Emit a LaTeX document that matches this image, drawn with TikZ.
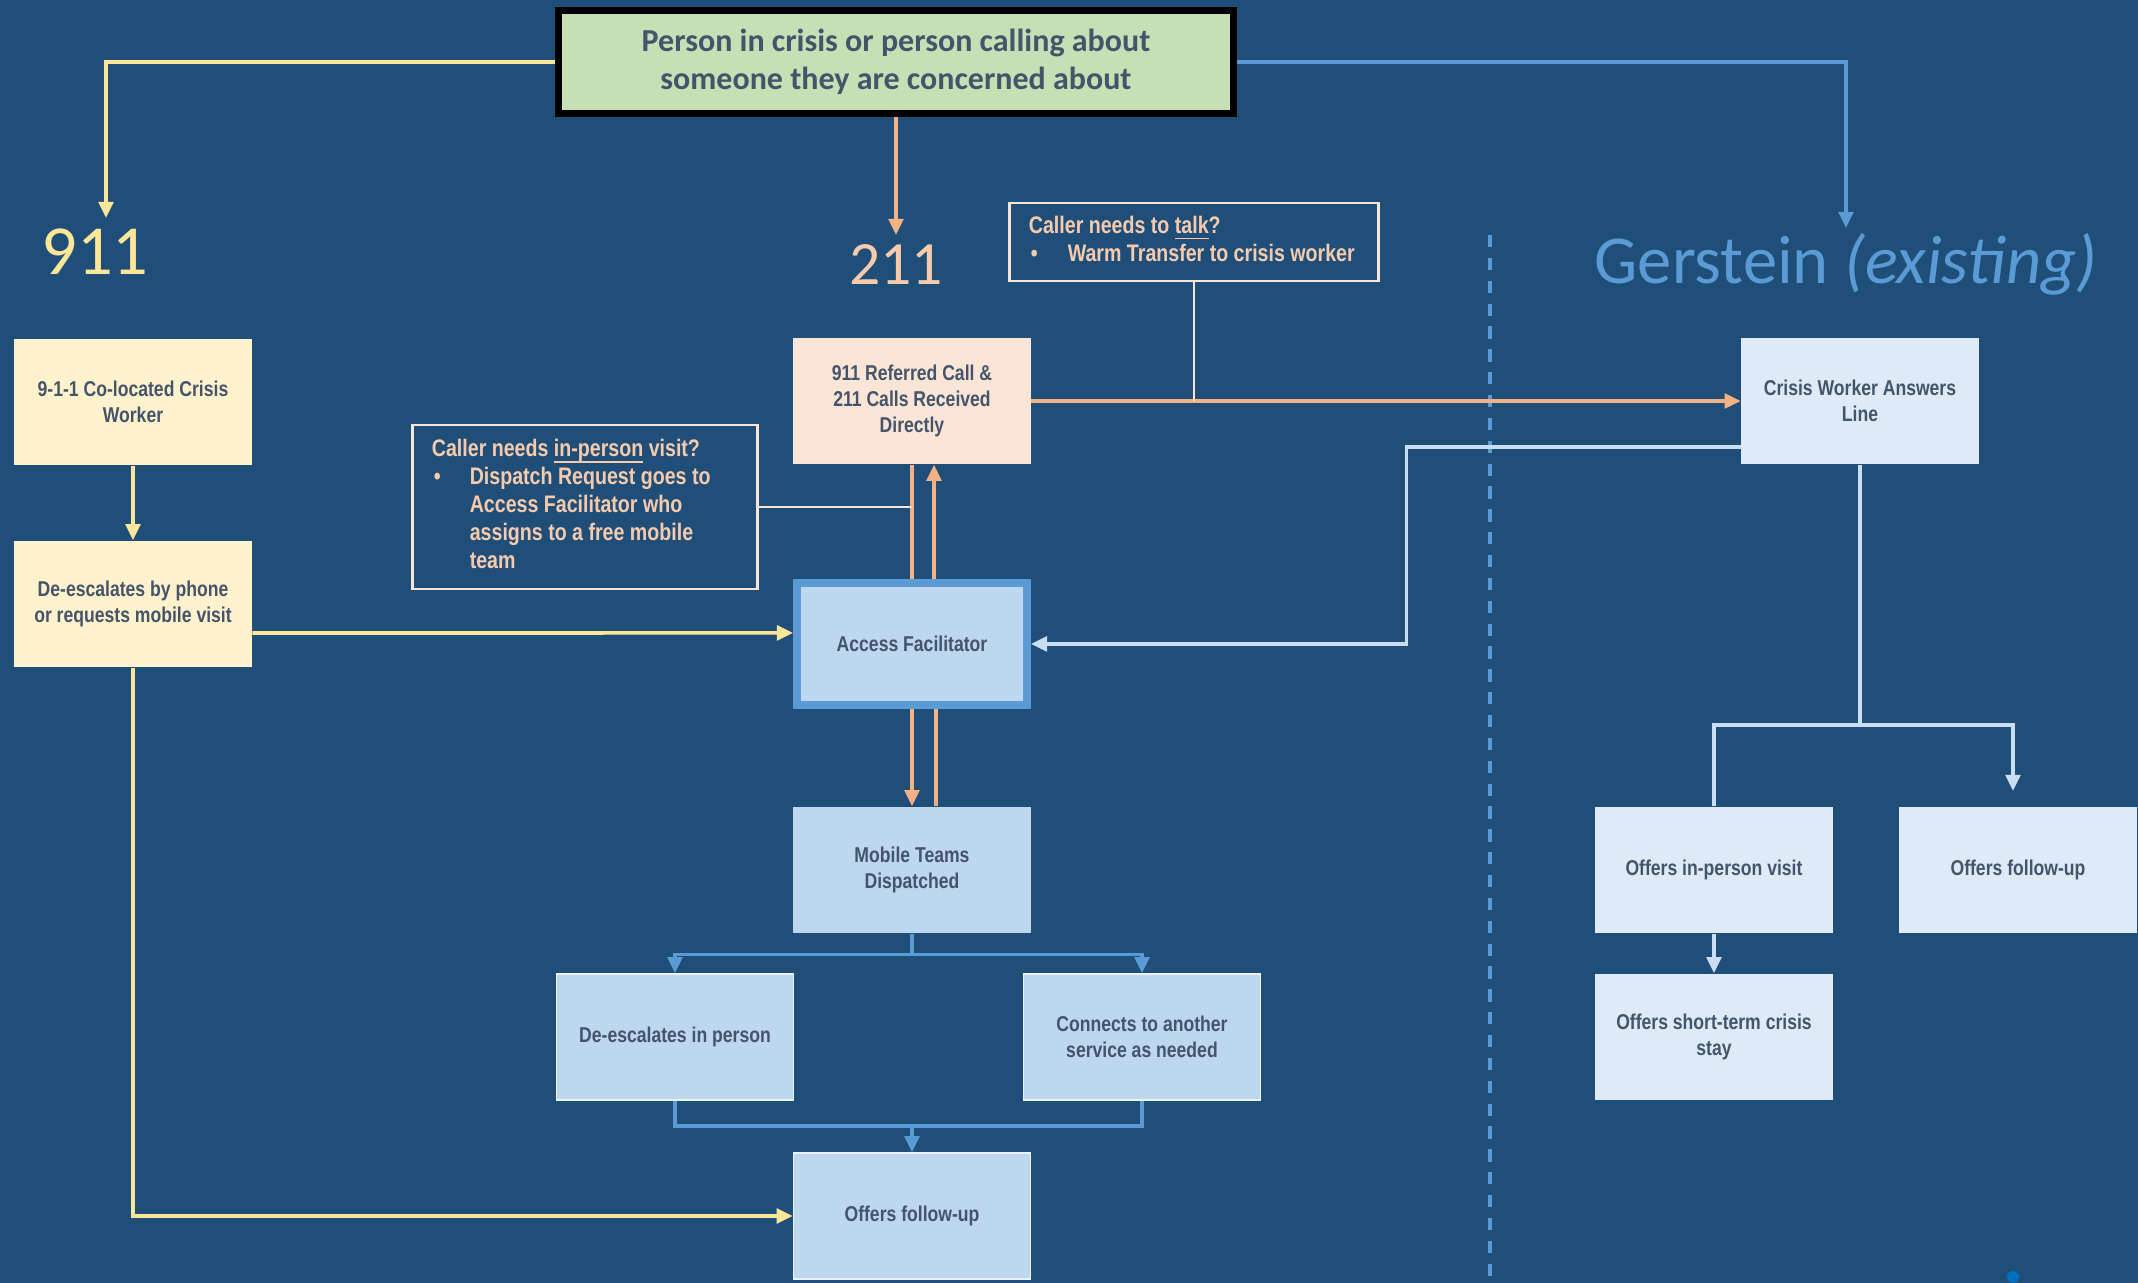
\documentclass[tikz,border=0pt]{standalone}
\usepackage{fontspec}
\setmainfont{Carlito}
\newfontfamily\narrowfont[FakeStretch=0.82]{Liberation Sans}
\usetikzlibrary{positioning,calc,arrows.meta}

\definecolor{bgblue}{HTML}{1F4E79}
\definecolor{topgreen}{HTML}{C5E0B4}
\definecolor{boxtext}{HTML}{44546A}
\definecolor{ylwline}{HTML}{FFE699}
\definecolor{ylwbox}{HTML}{FFF2CC}
\definecolor{pchline}{HTML}{F4B183}
\definecolor{pchbox}{HTML}{FBE5D6}
\definecolor{pchtext}{HTML}{F8CBAD}
\definecolor{bluline}{HTML}{5B9BD5}
\definecolor{blubox}{HTML}{BDD7EE}
\definecolor{palebox}{HTML}{DEEBF7}
\definecolor{paleline}{HTML}{C9DEF2}
\definecolor{dotblue}{HTML}{0070C0}

\newcommand{\ulword}[1]{\underline{\smash{#1}}}

\begin{document}
\begin{tikzpicture}[x=0.01cm,y=-0.01cm,
    tip/.style={-{Triangle[width=4.2pt,length=4.6pt]}},
    box/.style={rectangle, minimum width=2.37cm, minimum height=1.26cm, inner sep=1pt,
        align=center, text=boxtext, font=\narrowfont\bfseries\fontsize{6.1}{7.4}\selectfont},
    callout/.style={rectangle, draw=pchbox, line width=0.8pt, text=pchtext, align=flush left,
        inner sep=0pt, font=\narrowfont\bfseries\fontsize{6.8}{7.9}\selectfont},
    ylw/.style={draw=ylwline, line width=1pt},
    org/.style={draw=pchline, line width=1pt},
    blu/.style={draw=bluline, line width=1pt},
    pale/.style={draw=paleline, line width=1pt}]

    % background
    \useasboundingbox (0,0) rectangle (2138,1283);
    \fill[bgblue] (0,0) rectangle (2138,1283);

    % Caller
    \node[draw=black, line width=2pt, fill=topgreen, minimum width=6.74cm, minimum height=1.03cm,
        align=center, text=boxtext, font=\bfseries\fontsize{9.1}{10.8}\selectfont]
        (top) at (896,62) {Person in crisis or person calling about\\someone they are concerned about};

    % Headings
    \node[text=ylwline, font=\fontsize{20}{24}\selectfont, inner sep=0pt] (lbl911) at (95,252) {911};
    \node[text=pchtext, font=\fontsize{17.5}{21}\selectfont, inner sep=0pt] (lbl211) at (896,265) {211};
    \node[text=bluline, font=\fontsize{19.5}{23}\selectfont, inner sep=0pt, anchor=base]
        (lblger) at (1846,284) {Gerstein \textit{(existing)}};
    \coordinate (in911) at (106,218);
    \coordinate (in211) at (896,235);
    \coordinate (inger) at (1846,228);
    \draw[ylw,tip] (top.west) -| (in911);
    \draw[org,tip] (top.south) -- (in211);
    \draw[blu,tip] (top.east) -| (inger);

    % divider
    \draw[bluline, line width=1pt, dash pattern=on 3.5pt off 3pt] (1490,235) -- (1490,1283);

    % 911 column
    \node[box, fill=ylwbox] (b911a) at (133,402) {9-1-1 Co-located Crisis\\Worker};
    \node[box, fill=ylwbox] (b911b) at (133,604) {De-escalates by phone\\or requests mobile visit};

    % 211 column
    \node[box, fill=pchbox] (b211) at (912,401) {911 Referred Call \&\\211 Calls Received\\Directly};
    \node[box, fill=blubox, draw=bluline, line width=2.2pt, minimum width=2.3cm, minimum height=1.22cm]
        (af) at (912,644) {Access Facilitator};
    \node[box, fill=blubox] (mt) at (912,870) {Mobile Teams\\Dispatched};
    \node[box, fill=blubox, draw=white!70!blubox, line width=0.4pt] (dip) at (675,1037) {De-escalates in person};
    \node[box, fill=blubox, draw=white!70!blubox, line width=0.4pt] (cas) at (1142,1037) {Connects to another\\service as needed};
    \node[box, fill=blubox, draw=white!70!blubox, line width=0.4pt] (ofu) at (912,1216) {Offers follow-up};

    % call-outs
    \node[callout, text width=3.68cm, minimum height=0.78cm] (talk) at (1194,242) {\noindent
        \begin{tabular}{@{\hspace{0.21cm}}l@{\hspace{0.3cm}}l@{}}
        \multicolumn{2}{@{\hspace{0.19cm}}l}{Caller needs to \ulword{talk}?}\\
        \textbullet & Warm Transfer to crisis worker
        \end{tabular}};
    \node[callout, text width=3.44cm, minimum height=1.64cm] (visit) at (585,507) {\noindent
        \begin{tabular}{@{\hspace{0.21cm}}l@{\hspace{0.29cm}}l@{}}
        \multicolumn{2}{@{\hspace{0.19cm}}l}{Caller needs \ulword{in-person} visit?}\\
        \textbullet & Dispatch Request goes to\\
         & Access Facilitator who\\
         & assigns to a free mobile\\
         & team
        \end{tabular}};

    % Gerstein column
    \node[box, fill=palebox] (crisis) at (1860,401) {Crisis Worker Answers\\Line};
    \node[box, fill=palebox] (oiv) at (1714,870) {Offers in-person visit};
    \node[box, fill=palebox] (ofu2) at (2018,870) {Offers follow-up};
    \node[box, fill=palebox] (ost) at (1714,1037) {Offers short-term crisis\\stay};

    % 911 links
    \draw[ylw,tip] (b911a.south) -- (b911b.north);
    \draw[ylw,tip] ([yshift=-0.29cm]b911b.east) -- ([yshift=0.11cm]af.west);
    \draw[ylw,tip] (b911b.south) |- (ofu.west);

    % 211 links
    \draw[org,tip] (b211.east) -- (crisis.west);
    \draw[pchbox, line width=0.8pt] (talk.south) -- (talk.south |- b211.east);
    \draw[org] (af.north) -- (b211.south);
    \draw[org,tip] ([xshift=0.22cm]af.north) -- ([xshift=0.22cm]b211.south);
    \draw[pchbox, line width=0.8pt] (visit.east) -- (visit.east -| af.north);
    \draw[org,tip] (af.south) -- (mt.north);
    \draw[org] ([xshift=0.24cm]af.south) -- ([xshift=0.24cm]mt.north);
    \draw[blu,tip] (mt.south) -- ++(0,21) -| (dip.north);
    \draw[blu,tip] (mt.south) -- ++(0,21) -| (cas.north);
    \coordinate (join) at (912,1126);
    \draw[blu] (dip.south) |- (join) -| (cas.south);
    \draw[blu,tip] (join) -- (ofu.north);

    % Gerstein links
    \draw[pale,tip] ([yshift=-0.46cm]crisis.west) -- ++(-334,0) |- (af.east);
    \coordinate (split) at (1860,725);
    \coordinate (infu) at (2013,791);
    \draw[pale] (crisis.south) -- (split) -| (oiv.north);
    \draw[pale,tip] (split) -| (infu);
    \draw[pale,tip] (oiv.south) -- (ost.north);

    \fill[dotblue] (2013,1277) circle (0.06cm);
\end{tikzpicture}
\end{document}
